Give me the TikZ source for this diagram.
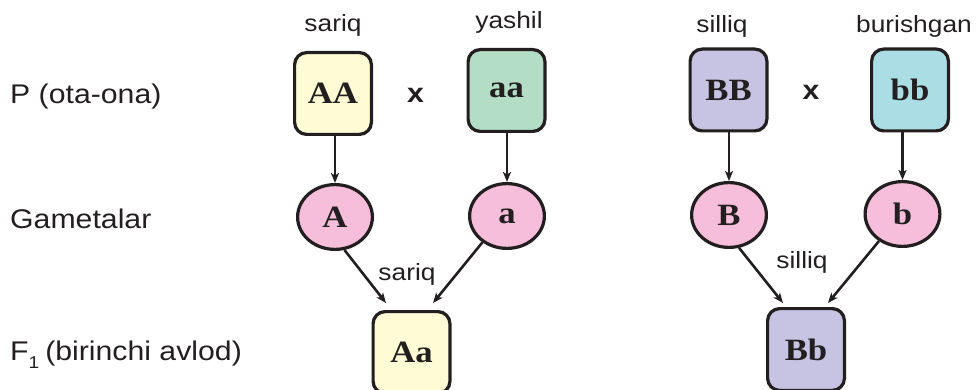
\documentclass[tikz,border=0pt]{standalone}
\usepackage{fontspec}
\setmainfont{Liberation Serif}
\newfontfamily\lblfont[FakeStretch=1.12]{Liberation Sans}
\newfontfamily\genfont[FakeStretch=1.12]{Liberation Serif}
\usetikzlibrary{shapes.geometric,arrows.meta,calc}
\definecolor{ink}{HTML}{231F20}
\definecolor{cyellow}{HTML}{FFFBD5}
\definecolor{cgreen}{HTML}{B3DDC5}
\definecolor{clav}{HTML}{C6C4E2}
\definecolor{ccyan}{HTML}{AADEE4}
\definecolor{gpink}{HTML}{F6BEDA}
\tikzset{
  geno/.style={draw=ink, line width=3.2pt, rounded corners=12pt, minimum width=76.8pt,
    minimum height=81.8pt, inner sep=0pt, text=ink,
    font=\genfont\bfseries\fontsize{31}{31}\selectfont},
  gam/.style={ellipse, draw=ink, line width=3.2pt, fill=gpink, minimum width=74.8pt,
    minimum height=64.8pt, inner sep=0pt, text=ink,
    font=\genfont\bfseries\fontsize{31}{31}\selectfont},
  lbl/.style={font=\lblfont\fontsize{23.5}{24}\selectfont, text=ink, anchor=base, inner sep=0pt},
  side/.style={font=\lblfont\fontsize{27}{28}\selectfont, text=ink, anchor=base west, inner sep=0pt},
  crossmark/.style={font=\lblfont\bfseries\fontsize{27}{28}\selectfont, text=ink, anchor=base, inner sep=0pt},
  arr/.style={draw=ink, line width=2.6pt, -{Stealth[length=10pt,width=8pt,inset=2.5pt]}}
}
\begin{document}
\begin{tikzpicture}[x=1pt,y=1pt]
\useasboundingbox (0,0) rectangle (977,-390);
\clip (0,0) rectangle (977,-390);
% row labels
\node[side] (rowP) at (10,-104) {P (ota-ona)};
\node[side] (rowG) at (10,-229) {Gametalar};
\node[side] (rowF) at (10,-360) {F\raisebox{-8pt}{\fontsize{17}{17}\selectfont 1}\hspace{6pt}(birinchi avlod)};
% parents
\node[geno, fill=cyellow] (AA) at (333,-93.5) {AA};
\node[geno, fill=cgreen] (aa) at (506.5,-90.5) {aa};
\node[geno, fill=clav] (BB) at (728.5,-90) {BB};
\node[geno, fill=ccyan] (bb) at (910,-90) {bb};
\node[crossmark] (x1) at (415.5,-103) {x};
\node[crossmark] (x2) at (811,-100) {x};
% top labels
\node[lbl] (tAA) at (333,-32) {sariq};
\node[lbl] (taa) at (509,-29) {yashil};
\node[lbl] (tBB) at (722,-33) {silliq};
\node[lbl] (tbb) at (914,-33) {burishgan};
% gametes
\node[gam] (A) at (335,-217) {A};
\node[gam] (a) at (507,-216) {a};
\node[gam] (B) at (729,-215) {B};
\node[gam] (b) at (902.5,-214) {b};
% offspring
\node[geno, fill=cyellow] (Aa) at (411.5,-352.5) {Aa};
\node[geno, fill=clav] (Bb) at (806,-349.5) {Bb};
\node[lbl] (tAa) at (407,-280) {sariq};
\node[lbl] (tBb) at (802,-268) {silliq};
% arrows parents -> gametes
\draw[arr] (A.north |- AA.south) -- (A.north);
\draw[arr] (a.north |- aa.south) -- (a.north);
\draw[arr] (B.north |- BB.south) -- (B.north);
\draw[arr] (b.north |- bb.south) -- (b.north);
% arrows gametes -> offspring
\draw[arr] (A.-74) -- ($(Aa.north)+(-25.5,7)$);
\draw[arr] (a.-133) -- ($(Aa.north)+(21.5,7)$);
\draw[arr] (B.-73) -- ($(Bb.north)+(-23,4)$);
\draw[arr] (b.-131) -- ($(Bb.north)+(22,4)$);
\end{tikzpicture}
\end{document}
